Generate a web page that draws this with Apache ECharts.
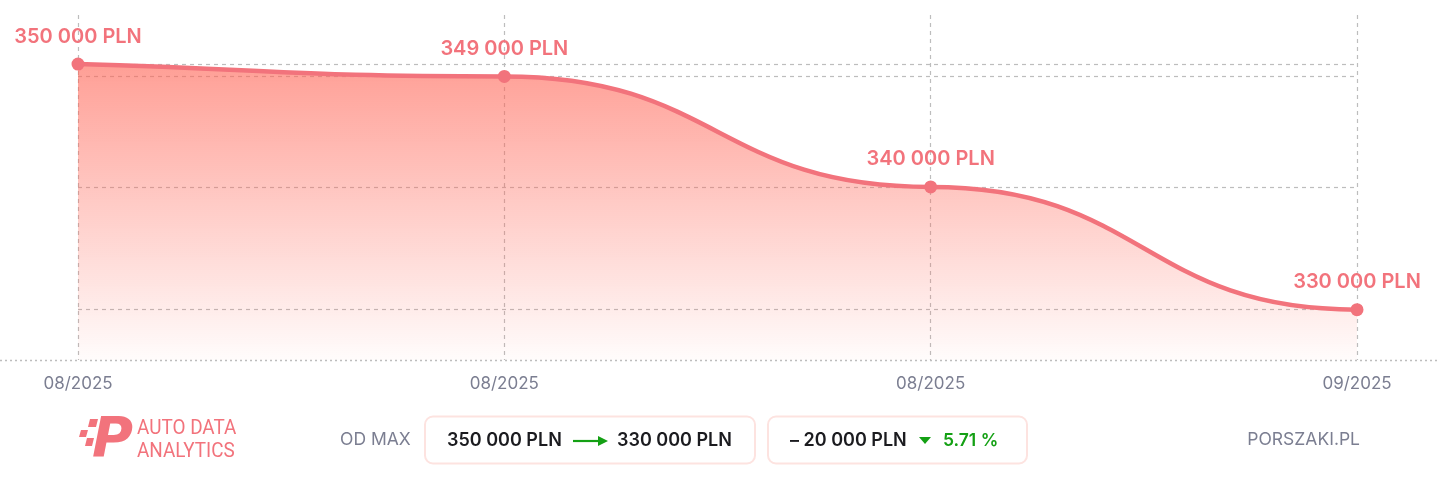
<!DOCTYPE html>
<html>
<head>
<meta charset="utf-8">
<script src="https://cdn.jsdelivr.net/npm/echarts@6/dist/echarts.min.js"></script>
<style>
html,body{margin:0;padding:0;background:#fff;}
#chart{width:1440px;height:496px;}
</style>
</head>
<body>
<div id="chart"></div>
<script>
const categories = ['08/2025', '08/2025', '08/2025', '09/2025'];
const prices = [350000, 349000, 340000, 330000];
const startPrice = '350 000 PLN';
const endPrice = '330 000 PLN';
const diffText = '– 20 000 PLN';
const pctText = '5.71 %';

const RED = '#f2737c';
const GRAY = '#7b7e91';
const GRID = '#bdbdbd';
const Y_MIN = 325900, Y_MAX = 354000;

function fmt(v) {
  return String(v).replace(/\B(?=(\d{3})+(?!\d))/g, ' ') + ' PLN';
}

const chart = echarts.init(document.getElementById('chart'), null, {renderer: 'canvas'});

// smooth curve with horizontal tangents at data points (start follows the first segment)
function renderCurve(params, api) {
  if (params.dataIndex !== 0) return null;
  const pts = prices.map((v, i) => api.coord([i, v]));
  const k = 0.5;
  let d = 'M' + pts[0][0] + ' ' + pts[0][1];
  for (let i = 1; i < pts.length; i++) {
    const a = pts[i - 1], b = pts[i];
    const dx = (b[0] - a[0]) * k;
    const c0y = i === 1 ? a[1] + (b[1] - a[1]) * k : a[1];
    d += ' C' + (a[0] + dx) + ' ' + c0y + ' ' + (b[0] - dx) + ' ' + b[1] + ' ' + b[0] + ' ' + b[1];
  }
  const bottom = api.coord([0, Y_MIN])[1];
  const last = pts[pts.length - 1];
  const area = d + ' L' + last[0] + ' ' + bottom + ' L' + pts[0][0] + ' ' + bottom + ' Z';
  return {
    type: 'group',
    children: [
      {type: 'path', shape: {pathData: area}, style: {
        fill: new echarts.graphic.LinearGradient(0, 0, 0, 1, [
          {offset: 0, color: 'rgba(255,100,85,0.62)'},
          {offset: 1, color: 'rgba(255,100,85,0.02)'}
        ]), stroke: null}},
      {type: 'path', shape: {pathData: d}, style: {
        fill: null, stroke: RED, lineWidth: 4.5, lineJoin: 'round', lineCap: 'round'}}
    ]
  };
}

const footerY = 440;
const option = {
  animation: false,
  grid: {left: 78, right: 83, top: 15, bottom: 136},
  xAxis: {
    type: 'category',
    data: categories.map((c, i) => ({value: c + '#' + i})),
    boundaryGap: false,
    axisLine: {show: false},
    axisTick: {show: false},
    axisLabel: {
      color: GRAY, fontFamily: 'Inter', fontSize: 17, margin: 15,
      formatter: v => v.split('#')[0]
    },
    splitLine: {show: true, lineStyle: {color: GRID, type: [4, 4], width: 1.2}}
  },
  yAxis: {
    type: 'value', min: Y_MIN, max: Y_MAX, show: false,
    splitLine: {show: false}
  },
  series: [{
    type: 'custom',
    renderItem: renderCurve,
    data: prices.map((v, i) => [i, v]),
    encode: {x: 0, y: 1},
    clip: false,
    silent: true,
    z: 2
  }, {
    type: 'line',
    data: prices,
    symbol: 'circle',
    symbolSize: 13,
    lineStyle: {width: 0, opacity: 0},
    itemStyle: {color: RED},
    label: {
      show: true, position: 'top', distance: 11,
      color: RED, fontFamily: 'Inter', fontWeight: 600, fontSize: 20,
      formatter: p => fmt(p.value)
    },
    markLine: {
      silent: true, symbol: 'none', label: {show: false},
      lineStyle: {color: GRID, type: [4, 4], width: 1.2},
      data: prices.map(v => ({yAxis: v})),
      z: 1
    },
    z: 3
  }],
  graphic: [
    {type: 'line', shape: {x1: 0, y1: 360.5, x2: 1440, y2: 360.5},
     style: {stroke: GRID, lineWidth: 1.5, lineDash: [2, 3]}},
    // logo squares
    {type: 'polygon', shape: {points: [[90,419],[98,419],[96,427],[88,427]]}, style: {fill: RED}},
    {type: 'polygon', shape: {points: [[81,430],[88,430],[86,437],[79,437]]}, style: {fill: RED}},
    {type: 'polygon', shape: {points: [[87,438],[94,438],[92,446],[85,446]]}, style: {fill: RED}},
    {type: 'text', x: 92, y: 441, style: {
      text: 'P', fill: RED, font: 'italic 900 56px "DejaVu Sans"',
      textVerticalAlign: 'middle', textAlign: 'left'}},
    {type: 'text', x: 137, y: 440, scaleX: 0.9, style: {
      text: 'AUTO DATA\nANALYTICS', fill: RED, font: '400 21px Roboto',
      lineHeight: 23, textVerticalAlign: 'middle', textAlign: 'left'}},
    {type: 'text', x: 340, y: footerY, style: {
      text: 'OD MAX', fill: GRAY, font: '400 17.5px Inter',
      textVerticalAlign: 'middle', textAlign: 'left'}},
    {type: 'rect', shape: {x: 425, y: 416.5, width: 330, height: 47, r: 8},
     style: {fill: '#fff', stroke: '#fde3e0', lineWidth: 2}},
    {type: 'text', x: 447, y: footerY + 1, style: {
      text: startPrice, fill: '#1b1b1f', font: '600 18px Inter',
      textVerticalAlign: 'middle', textAlign: 'left'}},
    {type: 'line', shape: {x1: 573, y1: footerY + 1, x2: 600, y2: footerY + 1},
     style: {stroke: '#14a014', lineWidth: 2.2}},
    {type: 'polygon', shape: {points: [[598, footerY - 4], [608, footerY + 1], [598, footerY + 6]]},
     style: {fill: '#14a014'}},
    {type: 'text', x: 617, y: footerY + 1, style: {
      text: endPrice, fill: '#1b1b1f', font: '600 18px Inter',
      textVerticalAlign: 'middle', textAlign: 'left'}},
    {type: 'rect', shape: {x: 768, y: 416.5, width: 259, height: 47, r: 8},
     style: {fill: '#fff', stroke: '#fde3e0', lineWidth: 2}},
    {type: 'text', x: 790, y: footerY + 1, style: {
      text: diffText, fill: '#1b1b1f', font: '600 18px Inter',
      textVerticalAlign: 'middle', textAlign: 'left'}},
    {type: 'polygon', shape: {points: [[919, footerY - 3], [931, footerY - 3], [925, footerY + 4]]},
     style: {fill: '#14a014'}},
    {type: 'text', x: 943, y: footerY + 1, style: {
      text: pctText, fill: '#14a014', font: '600 17.5px Inter',
      textVerticalAlign: 'middle', textAlign: 'left'}},
    {type: 'text', x: 1360, y: footerY, style: {
      text: 'PORSZAKI.PL', fill: GRAY, font: '400 17.5px Inter',
      textVerticalAlign: 'middle', textAlign: 'right'}}
  ]
};
chart.setOption(option);
</script>
</body>
</html>
